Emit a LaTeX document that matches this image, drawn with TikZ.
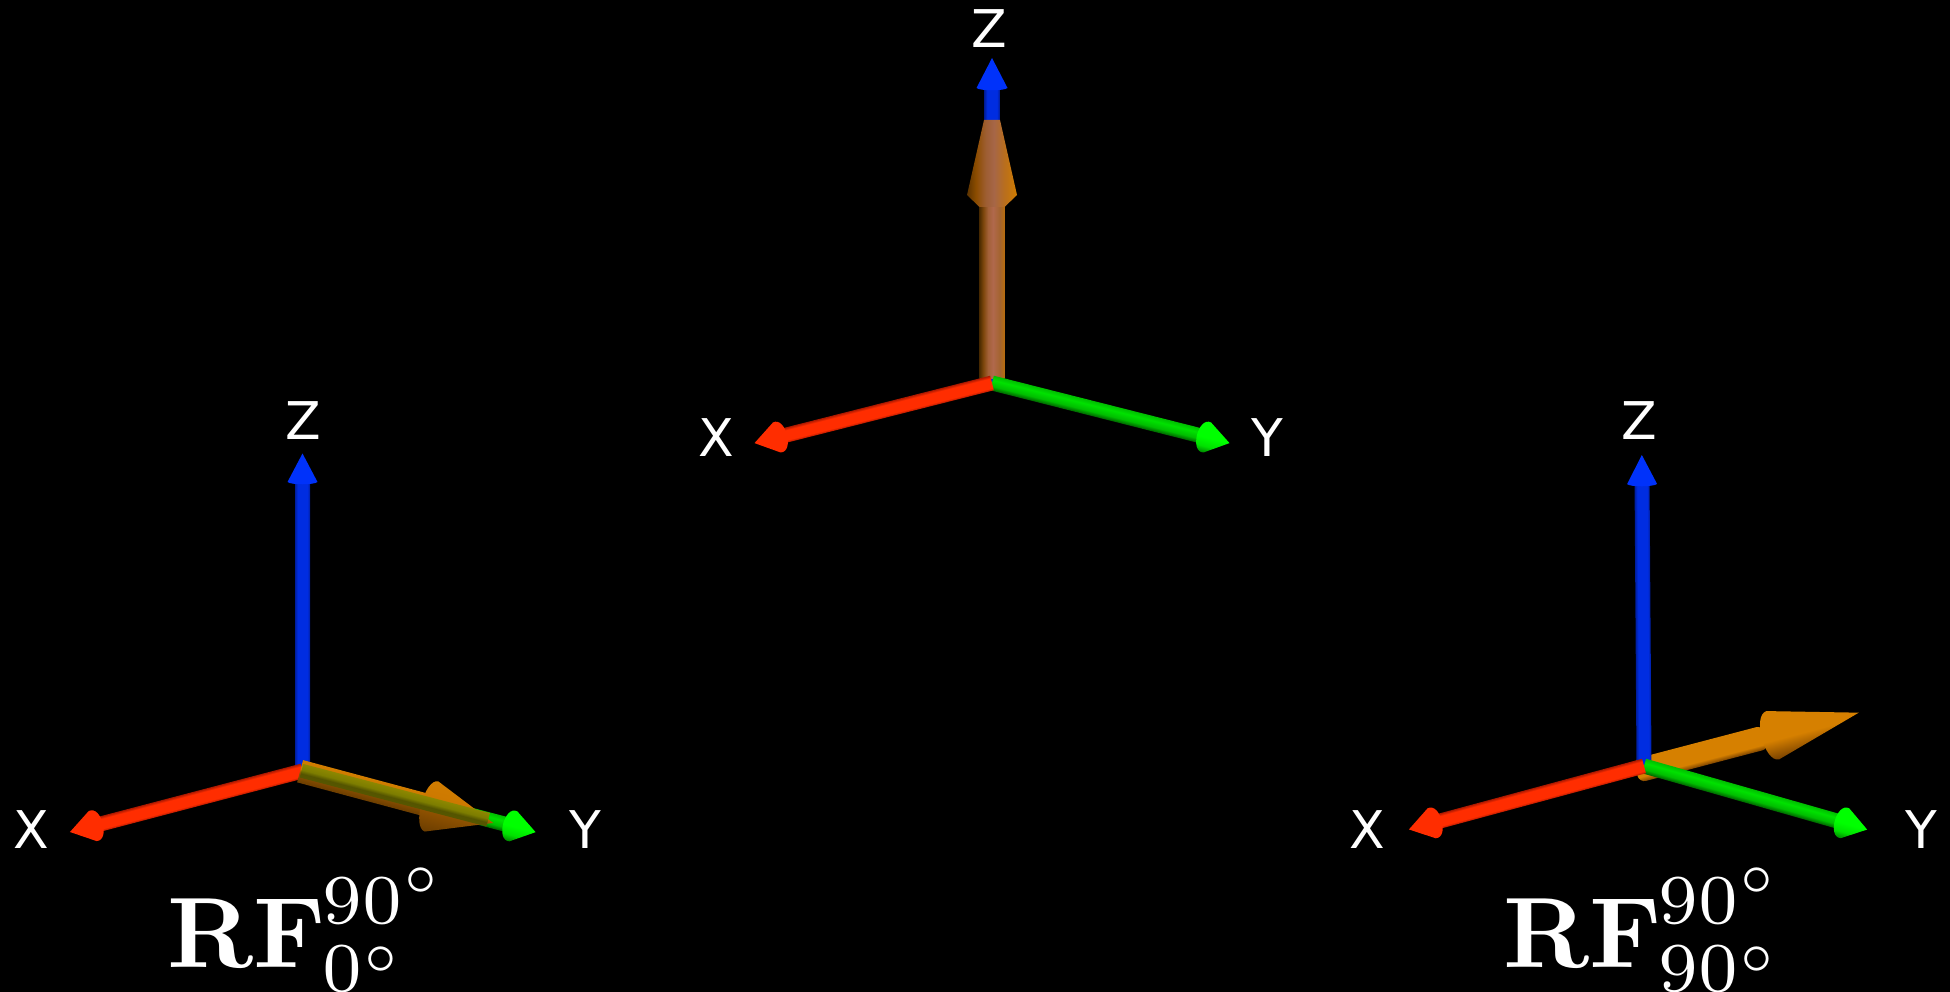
\documentclass[tikz,border=0pt]{standalone}
\usepackage[no-math]{fontspec}
\newfontfamily\labfont{DejaVu Sans}
\usetikzlibrary{calc}
\definecolor{rA}{RGB}{175,25,0}\definecolor{rB}{RGB}{255,45,0}
\definecolor{gA}{RGB}{0,95,0}\definecolor{gB}{RGB}{0,190,0}\definecolor{gC}{RGB}{0,225,0}\definecolor{gD}{RGB}{0,255,0}
\definecolor{bA}{RGB}{0,30,160}\definecolor{bB}{RGB}{0,45,225}\definecolor{bC}{RGB}{0,50,250}
\definecolor{oA}{RGB}{120,65,0}\definecolor{oB}{RGB}{214,128,0}
\pgfdeclareverticalshading{redS}{100bp}{color(0bp)=(rA);color(25bp)=(rA);color(34bp)=(rB);color(66bp)=(rB);color(75bp)=(rA);color(100bp)=(rA)}
\pgfdeclareverticalshading{redH}{100bp}{color(0bp)=(rB);color(100bp)=(rB)}
\pgfdeclareverticalshading{greenS}{100bp}{color(0bp)=(gA);color(25bp)=(gA);color(40bp)=(gB);color(60bp)=(gC);color(75bp)=(gB);color(100bp)=(gB)}
\pgfdeclareverticalshading{greenH}{100bp}{color(0bp)=(gA);color(25bp)=(gA);color(38bp)=(gC);color(50bp)=(gD);color(75bp)=(gD);color(100bp)=(gD)}
\pgfdeclareverticalshading{blueS}{100bp}{color(0bp)=(bA);color(25bp)=(bA);color(34bp)=(bB);color(66bp)=(bB);color(75bp)=(bA);color(100bp)=(bA)}
\pgfdeclareverticalshading{blueH}{100bp}{color(0bp)=(bC);color(100bp)=(bC)}
\pgfdeclareverticalshading{orS}{100bp}{color(0bp)=(oA);color(25bp)=(oA);color(36bp)=(oB);color(75bp)=(oB);color(100bp)=(oB)}
\pgfdeclareverticalshading{orH}{100bp}{color(0bp)=(oA);color(25bp)=(oA);color(45bp)=(oB);color(75bp)=(oB);color(100bp)=(oB)}
\pgfdeclareverticalshading{orL}{100bp}{rgb(0bp)=(0.42,0.24,0);rgb(25bp)=(0.42,0.24,0);rgb(48bp)=(0.58,0.33,0);rgb(55bp)=(0.80,0.47,0);rgb(75bp)=(0.82,0.49,0);rgb(100bp)=(0.82,0.49,0)}
\pgfdeclareverticalshading{oliveS}{100bp}{rgb(0bp)=(0.34,0.34,0);rgb(25bp)=(0.34,0.34,0);rgb(40bp)=(0.33,0.33,0);rgb(54bp)=(0.49,0.49,0);rgb(75bp)=(0.55,0.53,0);rgb(100bp)=(0.55,0.53,0)}
\pgfdeclarehorizontalshading{cenS}{100bp}{rgb(0bp)=(0.30,0.17,0);rgb(25bp)=(0.30,0.17,0);rgb(33bp)=(0.50,0.28,0.05);rgb(42bp)=(0.64,0.38,0.22);rgb(52bp)=(0.69,0.41,0.30);rgb(66bp)=(0.64,0.39,0.18);rgb(75bp)=(0.72,0.43,0.05);rgb(100bp)=(0.72,0.43,0.05)}
\pgfdeclarehorizontalshading{cenH}{100bp}{rgb(0bp)=(0.36,0.2,0);rgb(25bp)=(0.36,0.2,0);rgb(34bp)=(0.55,0.3,0);rgb(44bp)=(0.62,0.37,0.2);rgb(52bp)=(0.65,0.4,0.28);rgb(62bp)=(0.72,0.43,0.12);rgb(75bp)=(0.82,0.49,0);rgb(100bp)=(0.82,0.49,0)}
\tikzset{
  lab/.style={text=white,inner sep=0pt,font=\labfont\fontsize{52}{52}\selectfont},
  rflab/.style={text=white,inner sep=0pt,anchor=base west,scale=10}
}
% origin x, origin y (px, y down), angle, tip distance, shaft half width, head base, head half width, shaft shading, head shading
\newcommand{\AxisArrow}[9]{%
 \begin{scope}[transform canvas={shift={(#1,-#2)},rotate=#3}]
  \shade[shading=#8,shading angle=0] (0,-#5) rectangle (#6-4,#5);
  \shade[shading=#9,shading angle=0] (#6,-#7) .. controls (#6-14,-#7-3) and (#6-14,#7+3) .. (#6,#7) -- (#4,0) -- cycle;
 \end{scope}}
\newcommand{\ZArrow}[7]{%
 \begin{scope}[transform canvas={shift={(#1,-#2)},rotate=#3}]
  \shade[shading=blueS,shading angle=0] (0,-#5) rectangle (#6+1,#5);
  \shade[shading=blueH,shading angle=0] (#6,-#7) .. controls (#6-3,-#7+3) and (#6-3,#7-3) .. (#6,#7) -- (#4,0) -- cycle;
 \end{scope}}
\begin{document}
\begin{tikzpicture}[x=1pt,y=1pt]
\useasboundingbox (0,0) rectangle (1950,-992);
\fill[black] (0,0) rectangle (1950,-992);
% ---------- centre frame ----------
\ZArrow{992}{383}{90}{325}{7.5}{295}{15.5}
\shade[shading=cenS] (979.5,-378) rectangle (1004.5,-205);
\shade[shading=cenH] (984,-120) -- (1000,-120) -- (1017,-195) -- (1004.5,-207) -- (979.5,-207) -- (967,-195) -- cycle;
\AxisArrow{992}{383}{-14.2}{245}{7.5}{222}{15.5}{greenS}{greenH}
\AxisArrow{992}{383}{194.2}{245}{7.5}{222}{15.5}{redS}{redH}
\node[lab] (cZ) at (989,-29) {Z};
\node[lab] (cX) at (716,-438) {X};
\node[lab] (cY) at (1267,-438) {Y};
% ---------- left frame ----------
\ZArrow{302.5}{769}{90}{315.5}{7.5}{287}{15}
\AxisArrow{302.5}{771}{194.7}{240.4}{7.5}{217}{15.5}{redS}{redH}
\AxisArrow{302.5}{771}{-14.7}{241}{7.5}{218}{15.5}{greenS}{greenH}
% orange vector over the Y axis
\begin{scope}[transform canvas={shift={(303,-772)},rotate=-15}]
 \shade[shading=orL,shading angle=0] (-3,-11.5) rectangle (130,11.5);
 \shade[shading=orL,shading angle=0] (133,-26) .. controls (119,-25) and (119,25) .. (133,26) -- (197,0) -- cycle;
\end{scope}
\begin{scope}[transform canvas={shift={(302.5,-771)},rotate=-14.7}]
 \shade[shading=oliveS,shading angle=0] (-1,-7) rectangle (192,7);
\end{scope}
\node[lab] (lZ) at (303.5,-421) {Z};
\node[lab] (lX) at (31,-830) {X};
\node[lab] (lY) at (585,-830) {Y};
\node[rflab] (lRF) at (165,-967) {$\displaystyle{\mathbf{RF}\kern-.28pt}^{90^\circ}_{0^\circ}$};
% ---------- right frame ----------
\begin{scope}[transform canvas={shift={(1644,-769)},rotate=14.7}]
 \shade[shading=orS,shading angle=0,rounded corners=7pt] (-8,-12) rectangle (126,12);
 \shade[shading=orH,shading angle=0] (133,-25) .. controls (118,-24) and (118,24) .. (133,25) -- (222,0) -- cycle;
\end{scope}
\ZArrow{1644}{765}{90.4}{310}{7.5}{281}{15}
\AxisArrow{1644}{766}{-15.9}{232}{7.5}{209}{15.5}{greenS}{greenH}
\AxisArrow{1644}{766}{195.1}{243.5}{7.5}{220}{15.5}{redS}{redH}
\node[lab] (rZ) at (1639.5,-421) {Z};
\node[lab] (rX) at (1367,-830) {X};
\node[lab] (rY) at (1921,-830) {Y};
\node[rflab] (rRF) at (1501,-967) {$\displaystyle{\mathbf{RF}\kern-.28pt}^{90^\circ}_{90^\circ}$};
\end{tikzpicture}
\end{document}
